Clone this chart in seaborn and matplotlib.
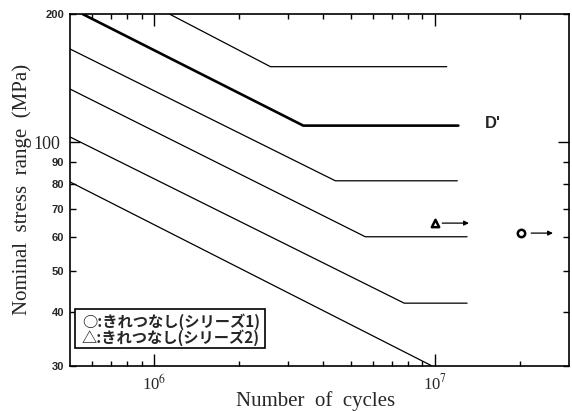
import numpy as np
import pandas as pd
import matplotlib
matplotlib.use("Agg")
import matplotlib.pyplot as plt
import seaborn as sns
from matplotlib.patches import Rectangle
from matplotlib.ticker import FixedLocator, NullFormatter

# ---------------- data ----------------
curve_names = ["B", "D'", "D", "E", "F", "G"]
curve_cycles = [
    [1.13e6, 2.59e6, 1.10e7],
    [5.54e5, 3.39e6, 1.21e7],
    [5.0e5, 4.41e6, 1.20e7],
    [5.0e5, 5.64e6, 1.30e7],
    [5.0e5, 7.76e6, 1.30e7],
    [5.0e5, 9.68e6],
]
curve_stress = [
    [200.0, 150.5, 150.5],
    [200.0, 109.5, 109.5],
    [165.6, 81.3, 81.3],
    [133.4, 60.1, 60.1],
    [103.0, 42.0, 42.0],
    [80.8, 30.0],
]
curve_bold = [False, True, False, False, False, False]

test_cycles = [2.02e7, 1.0e7]
test_stress = [61.3, 64.7]
test_marker = ["o", "^"]
arrow_from = [2.2e7, 1.06e7]
arrow_to = [2.63e7, 1.32e7]

ytick_values = [30, 40, 50, 60, 70, 80, 90, 100, 200]
ytick_labels = ["30", "40", "50", "60", "70", "80", "90", "100", "200"]
xtick_values = [1e6, 1e7]
xtick_labels = ["10$^6$", "10$^7$"]

legend_lines = ["○:きれつなし(シリーズ1)", "△:きれつなし(シリーズ2)"]

# ---------------- style ----------------
sns.set_style("ticks")
plt.rcParams["font.family"] = ["Liberation Serif", "Noto Sans CJK JP", "DejaVu Sans"]
plt.rcParams["mathtext.fontset"] = "stix"

fig = plt.figure(figsize=(5.72, 4.11), dpi=100)
ax = fig.add_axes([70 / 572, (411 - 365.5) / 411, 499 / 572, 351.5 / 411])

rows = []
for name, xs, ys in zip(curve_names, curve_cycles, curve_stress):
    for x, y in zip(xs, ys):
        rows.append({"curve": name, "cycles": x, "stress": y})
df = pd.DataFrame(rows)

for name, bold in zip(curve_names, curve_bold):
    sub = df[df["curve"] == name]
    sns.lineplot(data=sub, x="cycles", y="stress", ax=ax, color="black",
                 lw=1.9 if bold else 0.9, sort=False, estimator=None,
                 legend=False)

pts = pd.DataFrame({"cycles": test_cycles, "stress": test_stress, "m": test_marker})
for _, r in pts.iterrows():
    sns.scatterplot(x=[r["cycles"]], y=[r["stress"]], ax=ax, marker=r["m"],
                    s=28, facecolor="white", edgecolor="black", linewidth=1.8,
                    legend=False, zorder=5)
for a, b, y in zip(arrow_from, arrow_to, test_stress):
    ax.annotate("", xy=(b, y), xytext=(a, y),
                arrowprops=dict(arrowstyle="-|>", color="black", lw=0.9,
                                mutation_scale=7, shrinkA=0, shrinkB=0))

ax.set_xscale("log")
ax.set_yscale("log")
ax.set_xlim(5e5, 3e7)
ax.set_ylim(30, 200)

# ticks
ax.xaxis.set_major_locator(FixedLocator(xtick_values))
ax.set_xticklabels(xtick_labels)
ax.xaxis.set_minor_locator(FixedLocator(
    [6e5, 7e5, 8e5, 9e5] + [k * 1e6 for k in range(2, 10)] + [2e7]))
ax.xaxis.set_minor_formatter(NullFormatter())
ax.yaxis.set_major_locator(FixedLocator(ytick_values))
ax.set_yticklabels(ytick_labels)
ax.yaxis.set_minor_locator(FixedLocator([]))

ax.tick_params(axis="both", which="both", direction="in", top=True, right=True,
               width=1.0, color="black")
ax.tick_params(axis="x", which="major", length=8.5, labelsize=12, pad=6)
ax.tick_params(axis="x", which="minor", length=3.5)
ax.tick_params(axis="y", which="major", length=4.5, pad=4)

for tick, lab in zip(ax.yaxis.get_major_ticks(), ytick_labels):
    if lab == "100":
        tick.label1.set_fontfamily("Liberation Serif")
        tick.label1.set_fontsize(13)
        tick.label1.set_fontweight("normal")
        tick.set_pad(7)
        tick.tick1line.set_markersize(7)
        tick.tick2line.set_markersize(8)
    else:
        tick.label1.set_fontfamily("Liberation Sans")
        tick.label1.set_fontsize(8)
        tick.label1.set_fontweight("bold")

for sp in ax.spines.values():
    sp.set_linewidth(1.2)
    sp.set_color("black")

ax.set_xlabel("Number  of  cycles", fontsize=15)
ax.set_ylabel("Nominal  stress  range  (MPa)", fontsize=15)
ax.xaxis.set_label_coords(0.493, -0.072)
ax.yaxis.label.set_va("center")
ax.yaxis.set_label_coords(-0.096, 0.502)

# D' label
ax.text(1.5e7, 111.0, "D'", fontfamily="Liberation Sans", fontweight="bold",
        fontsize=12, ha="left", va="center")

# legend box
ax.add_patch(Rectangle((0.01, 0.050), 0.381, 0.111, transform=ax.transAxes,
                       facecolor="white", edgecolor="black", lw=1.2, zorder=6))
for yy, line in zip([0.124, 0.079], legend_lines):
    ax.text(0.024, yy, line, transform=ax.transAxes, fontsize=11,
            fontfamily=["Noto Sans CJK JP", "DejaVu Sans"], fontweight="bold",
            ha="left", va="center", zorder=7)

fig.savefig("out.png", dpi=100)
